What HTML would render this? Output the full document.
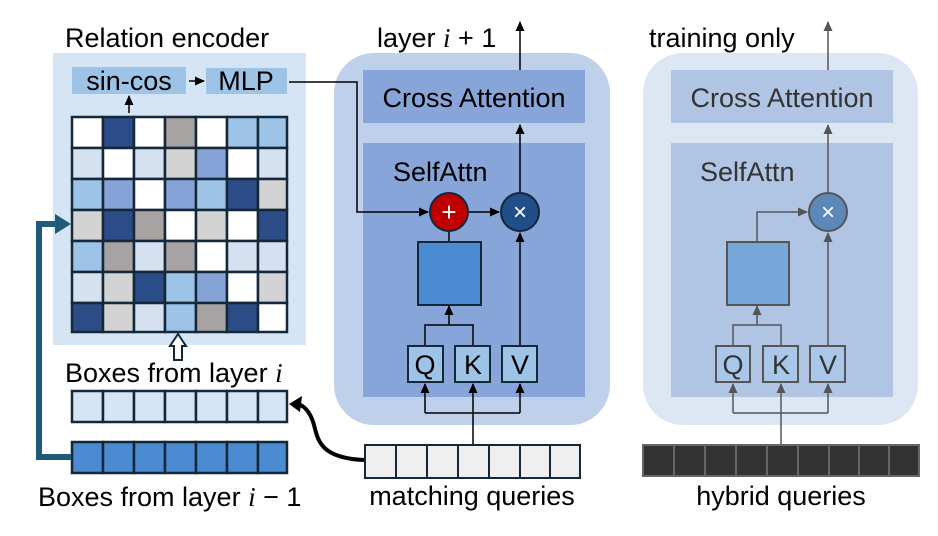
<!DOCTYPE html>
<html><head><meta charset="utf-8"><style>
html,body{margin:0;padding:0;background:#fff;}
svg{display:block;font-family:"Liberation Sans",sans-serif;}
</style></head><body>
<svg width="938" height="536" viewBox="0 0 938 536" xmlns="http://www.w3.org/2000/svg">
<defs>
<marker id="ab" markerWidth="10" markerHeight="10" refX="9" refY="5" orient="auto" markerUnits="userSpaceOnUse"><path d="M0,0.5 L10,5 L0,9.5 z" fill="#000"/></marker>
<marker id="ag" markerWidth="10" markerHeight="10" refX="9" refY="5" orient="auto" markerUnits="userSpaceOnUse"><path d="M0,0.5 L10,5 L0,9.5 z" fill="#555"/></marker>
</defs>
<!-- Left panel -->
<rect x="53" y="53" width="253" height="292" fill="#d6e5f5"/>
<text x="65" y="47" font-size="27">Relation encoder</text>
<rect x="72" y="67" width="114" height="27" fill="#9dc3e6"/>
<text x="129" y="90" font-size="27" text-anchor="middle">sin-cos</text>
<rect x="206" y="68" width="81" height="26" fill="#9dc3e6"/>
<text x="246" y="90" font-size="27" text-anchor="middle">MLP</text>
<line x1="189" y1="81" x2="204" y2="81" stroke="#000" stroke-width="1.5" marker-end="url(#ab)"/>
<line x1="129" y1="113" x2="129" y2="96" stroke="#000" stroke-width="1.5" marker-end="url(#ab)"/>
<g stroke="#14283a" stroke-width="2.5">
<rect x="72" y="117" width="31" height="31" fill="#fff"/><rect x="103" y="117" width="31" height="31" fill="#2c4c87"/><rect x="134" y="117" width="31" height="31" fill="#fff"/><rect x="165" y="117" width="31" height="31" fill="#a7a3a2"/><rect x="196" y="117" width="31" height="31" fill="#fff"/><rect x="227" y="117" width="31" height="31" fill="#9dc3e6"/><rect x="258" y="117" width="29" height="31" fill="#9dc3e6"/>
<rect x="72" y="148" width="31" height="31" fill="#d5e0f1"/><rect x="103" y="148" width="31" height="31" fill="#fff"/><rect x="134" y="148" width="31" height="31" fill="#d5e0f1"/><rect x="165" y="148" width="31" height="31" fill="#d3d3d3"/><rect x="196" y="148" width="31" height="31" fill="#86a3d8"/><rect x="227" y="148" width="31" height="31" fill="#fff"/><rect x="258" y="148" width="29" height="31" fill="#d5e0f1"/>
<rect x="72" y="179" width="31" height="31" fill="#9dc3e6"/><rect x="103" y="179" width="31" height="31" fill="#86a3d8"/><rect x="134" y="179" width="31" height="31" fill="#fff"/><rect x="165" y="179" width="31" height="31" fill="#86a3d8"/><rect x="196" y="179" width="31" height="31" fill="#9dc3e6"/><rect x="227" y="179" width="31" height="31" fill="#2c4c87"/><rect x="258" y="179" width="29" height="31" fill="#d3d3d3"/>
<rect x="72" y="210" width="31" height="31" fill="#d3d3d3"/><rect x="103" y="210" width="31" height="31" fill="#2c4c87"/><rect x="134" y="210" width="31" height="31" fill="#a7a3a2"/><rect x="165" y="210" width="31" height="31" fill="#fff"/><rect x="196" y="210" width="31" height="31" fill="#d3d3d3"/><rect x="227" y="210" width="31" height="31" fill="#fff"/><rect x="258" y="210" width="29" height="31" fill="#2c4c87"/>
<rect x="72" y="241" width="31" height="31" fill="#9dc3e6"/><rect x="103" y="241" width="31" height="31" fill="#a7a3a2"/><rect x="134" y="241" width="31" height="31" fill="#d5e0f1"/><rect x="165" y="241" width="31" height="31" fill="#a7a3a2"/><rect x="196" y="241" width="31" height="31" fill="#fff"/><rect x="227" y="241" width="31" height="31" fill="#d5e0f1"/><rect x="258" y="241" width="29" height="31" fill="#d5e0f1"/>
<rect x="72" y="272" width="31" height="31" fill="#d5e0f1"/><rect x="103" y="272" width="31" height="31" fill="#d3d3d3"/><rect x="134" y="272" width="31" height="31" fill="#2c4c87"/><rect x="165" y="272" width="31" height="31" fill="#9dc3e6"/><rect x="196" y="272" width="31" height="31" fill="#86a3d8"/><rect x="227" y="272" width="31" height="31" fill="#fff"/><rect x="258" y="272" width="29" height="31" fill="#d3d3d3"/>
<rect x="72" y="303" width="31" height="29" fill="#2c4c87"/><rect x="103" y="303" width="31" height="29" fill="#d3d3d3"/><rect x="134" y="303" width="31" height="29" fill="#d5e0f1"/><rect x="165" y="303" width="31" height="29" fill="#9dc3e6"/><rect x="196" y="303" width="31" height="29" fill="#a7a3a2"/><rect x="227" y="303" width="31" height="29" fill="#2c4c87"/><rect x="258" y="303" width="29" height="29" fill="#fff"/>
</g>
<path d="M174,360 L174,346 L170,346 L178,334 L186,346 L182,346 L182,360 z" fill="#fff" stroke="#14283a" stroke-width="2"/>
<text x="65" y="382" font-size="27">Boxes from layer <tspan font-family="Liberation Serif" font-style="italic">i</tspan></text>
<g stroke="#14283a" stroke-width="2.5" fill="#d6e5f5">
<rect x="72" y="391" width="31" height="31"/><rect x="103" y="391" width="31" height="31"/><rect x="134" y="391" width="31" height="31"/><rect x="165" y="391" width="31" height="31"/><rect x="196" y="391" width="31" height="31"/><rect x="227" y="391" width="31" height="31"/><rect x="258" y="391" width="29" height="31"/>
</g>
<g stroke="#14283a" stroke-width="2.5" fill="#4a8bd1">
<rect x="72" y="442" width="31" height="31"/><rect x="103" y="442" width="31" height="31"/><rect x="134" y="442" width="31" height="31"/><rect x="165" y="442" width="31" height="31"/><rect x="196" y="442" width="31" height="31"/><rect x="227" y="442" width="31" height="31"/><rect x="258" y="442" width="29" height="31"/>
</g>
<path d="M71,457 L39,457 L39,224 L58,224" fill="none" stroke="#1f5a7a" stroke-width="6"/>
<path d="M55,214 L71,224 L55,234 z" fill="#1f5a7a"/>
<text x="38" y="506" font-size="27">Boxes from layer <tspan font-family="Liberation Serif" font-style="italic">i</tspan> − 1</text>
<path d="M364,460 C320,458 318,440 314,425 C310,410 302,404 296,404" fill="none" stroke="#000" stroke-width="4"/>
<path d="M289,404 L302,396 L300,412 z" fill="#000"/>
<!-- Middle panel -->
<rect x="334" y="53" width="276" height="372" rx="40" fill="#bfd0ea"/>
<rect x="363" y="70" width="222" height="53" fill="#88a5d9"/>
<text x="474" y="107" font-size="27" text-anchor="middle">Cross Attention</text>
<rect x="363" y="143" width="222" height="254" fill="#88a5d9"/>
<text x="393" y="181" font-size="27">SelfAttn</text>
<text x="377" y="47" font-size="27">layer <tspan font-family="Liberation Serif" font-style="italic">i</tspan> + 1</text>
<line x1="520" y1="70" x2="520" y2="22" stroke="#000" stroke-width="1.5" marker-end="url(#ab)"/>
<path d="M289,82 L357,82 L357,212 L428,212" fill="none" stroke="#000" stroke-width="1.5" marker-end="url(#ab)"/>
<line x1="469" y1="212" x2="499" y2="212" stroke="#000" stroke-width="1.5" marker-end="url(#ab)"/>
<line x1="520" y1="192" x2="520" y2="125" stroke="#000" stroke-width="1.5" marker-end="url(#ab)"/>
<line x1="449" y1="232" x2="449" y2="242" stroke="#000" stroke-width="1.5"/>
<rect x="418" y="242" width="63" height="63" fill="#4a8bd1" stroke="#14283a" stroke-width="2"/>
<circle cx="449" cy="212" r="19" fill="#c00000" stroke="#14283a" stroke-width="2"/>
<text x="449" y="221" font-size="26" fill="#fff" text-anchor="middle">+</text>
<circle cx="520" cy="212" r="19" fill="#1f4e89" stroke="#14283a" stroke-width="2"/>
<text x="520" y="220" font-size="24" fill="#fff" text-anchor="middle">×</text>
<path d="M425,346 L425,325 L473,325 L473,346" fill="none" stroke="#000" stroke-width="1.5"/>
<line x1="449" y1="325" x2="449" y2="306" stroke="#000" stroke-width="1.5" marker-end="url(#ab)"/>
<line x1="520" y1="346" x2="520" y2="233" stroke="#000" stroke-width="1.5" marker-end="url(#ab)"/>
<g stroke="#14283a" stroke-width="2" fill="#9dc3e6">
<rect x="408" y="346" width="35" height="36"/><rect x="455" y="346" width="35" height="36"/><rect x="502" y="346" width="35" height="36"/>
</g>
<g font-size="27" text-anchor="middle"><text x="425" y="374">Q</text><text x="473" y="374">K</text><text x="520" y="374">V</text></g>
<path d="M425,413 L520,413" fill="none" stroke="#000" stroke-width="1.5"/>
<line x1="425" y1="413" x2="425" y2="384" stroke="#000" stroke-width="1.5" marker-end="url(#ab)"/>
<line x1="520" y1="413" x2="520" y2="384" stroke="#000" stroke-width="1.5" marker-end="url(#ab)"/>
<line x1="473" y1="445" x2="473" y2="384" stroke="#000" stroke-width="1.5" marker-end="url(#ab)"/>
<g stroke="#14283a" stroke-width="2" fill="#efefef">
<rect x="365" y="445" width="31" height="33"/><rect x="396" y="445" width="31" height="33"/><rect x="427" y="445" width="31" height="33"/><rect x="458" y="445" width="31" height="33"/><rect x="489" y="445" width="31" height="33"/><rect x="520" y="445" width="30" height="33"/><rect x="550" y="445" width="30" height="33"/>
</g>
<text x="472" y="505" font-size="27" text-anchor="middle">matching queries</text>
<!-- Right panel -->
<rect x="643" y="53" width="275" height="372" rx="40" fill="#dde7f4"/>
<rect x="671" y="70" width="222" height="53" fill="#b0c4e4"/>
<text x="782" y="107" font-size="27" text-anchor="middle" fill="#333">Cross Attention</text>
<rect x="671" y="143" width="222" height="254" fill="#b0c4e4"/>
<text x="700" y="181" font-size="27" fill="#333">SelfAttn</text>
<text x="649" y="47" font-size="27">training only</text>
<line x1="828" y1="70" x2="828" y2="22" stroke="#555" stroke-width="1.5" marker-end="url(#ag)"/>
<line x1="828" y1="192" x2="828" y2="125" stroke="#555" stroke-width="1.5" marker-end="url(#ag)"/>
<path d="M757,242 L757,212 L807,212" fill="none" stroke="#555" stroke-width="1.5" marker-end="url(#ag)"/>
<rect x="727" y="242" width="62" height="63" fill="#77a6d8" stroke="#555" stroke-width="2"/>
<circle cx="828" cy="212" r="19" fill="#5b88b8" stroke="#555" stroke-width="2"/>
<text x="828" y="220" font-size="24" fill="#fff" text-anchor="middle">×</text>
<path d="M733,346 L733,325 L781,325 L781,346" fill="none" stroke="#555" stroke-width="1.5"/>
<line x1="757" y1="325" x2="757" y2="306" stroke="#555" stroke-width="1.5" marker-end="url(#ag)"/>
<line x1="828" y1="346" x2="828" y2="233" stroke="#555" stroke-width="1.5" marker-end="url(#ag)"/>
<g stroke="#555" stroke-width="2" fill="#a9c7e8">
<rect x="716" y="346" width="34" height="36"/><rect x="763" y="346" width="35" height="36"/><rect x="810" y="346" width="35" height="36"/>
</g>
<g font-size="27" text-anchor="middle" fill="#333"><text x="733" y="374">Q</text><text x="781" y="374">K</text><text x="828" y="374">V</text></g>
<path d="M733,413 L828,413" fill="none" stroke="#555" stroke-width="1.5"/>
<line x1="733" y1="413" x2="733" y2="384" stroke="#555" stroke-width="1.5" marker-end="url(#ag)"/>
<line x1="828" y1="413" x2="828" y2="384" stroke="#555" stroke-width="1.5" marker-end="url(#ag)"/>
<line x1="781" y1="445" x2="781" y2="384" stroke="#555" stroke-width="1.5" marker-end="url(#ag)"/>
<g stroke="#666" stroke-width="2" fill="#333">
<rect x="643" y="445" width="31" height="31"/><rect x="674" y="445" width="31" height="31"/><rect x="705" y="445" width="31" height="31"/><rect x="736" y="445" width="31" height="31"/><rect x="767" y="445" width="31" height="31"/><rect x="798" y="445" width="31" height="31"/><rect x="829" y="445" width="30" height="31"/><rect x="859" y="445" width="30" height="31"/><rect x="889" y="445" width="30" height="31"/>
</g>
<text x="781" y="505" font-size="27" text-anchor="middle">hybrid queries</text>
</svg>
</body></html>
